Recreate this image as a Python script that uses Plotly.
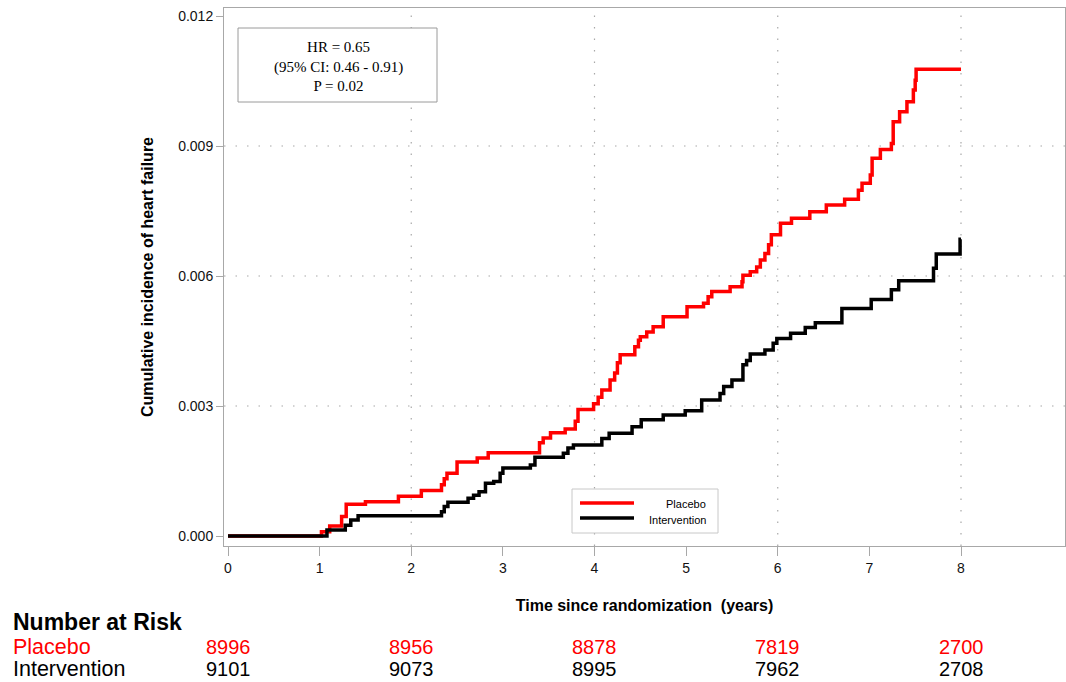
import plotly.graph_objects as go

# ---------------- data ----------------
placebo_t = [0, 1.02, 1.11, 1.24, 1.29, 1.50, 1.86, 2.11, 2.33, 2.36, 2.39, 2.50, 2.72, 2.84,
             3.40, 3.44, 3.52, 3.68, 3.79, 3.82, 3.99, 4.04, 4.08, 4.17, 4.22, 4.25, 4.28,
             4.44, 4.48, 4.50, 4.57, 4.64, 4.75, 5.01, 5.19, 5.24, 5.28, 5.48, 5.61, 5.62,
             5.70, 5.77, 5.81, 5.86, 5.90, 5.93, 6.03, 6.15, 6.35, 6.53, 6.73, 6.88, 6.92,
             7.01, 7.03, 7.12, 7.24, 7.26, 7.33, 7.41, 7.48, 7.50, 7.51, 8.00]
placebo_v = [0, 0.00010, 0.00023, 0.00045, 0.00073, 0.00079, 0.00092, 0.00105, 0.00118, 0.00132,
             0.00145, 0.00171, 0.00180, 0.00192, 0.00215, 0.00226, 0.00238, 0.00247, 0.00265,
             0.00292, 0.00305, 0.00320, 0.00337, 0.00360, 0.00376, 0.00400, 0.00418, 0.00437,
             0.00452, 0.00460, 0.00471, 0.00483, 0.00506, 0.00529, 0.00537, 0.00552, 0.00564,
             0.00575, 0.00587, 0.00602, 0.00610, 0.00621, 0.00637, 0.00652, 0.00672, 0.00695,
             0.00722, 0.00733, 0.00748, 0.00764, 0.00777, 0.00798, 0.00814, 0.00833, 0.00872,
             0.00892, 0.00906, 0.00956, 0.00979, 0.01002, 0.01029, 0.01052, 0.01077, 0.01077]

interv_t = [0, 1.08, 1.28, 1.34, 1.42, 2.33, 2.36, 2.40, 2.62, 2.68, 2.74, 2.81, 2.90, 2.97, 3.00,
            3.30, 3.35, 3.66, 3.71, 3.77, 4.08, 4.16, 4.41, 4.51, 4.75, 4.99, 5.17, 5.37, 5.41,
            5.50, 5.62, 5.66, 5.70, 5.86, 5.95, 5.99, 6.14, 6.30, 6.41, 6.70, 7.02, 7.24, 7.32,
            7.70, 7.73, 7.99, 8.00]
interv_v = [0, 0.00014, 0.00025, 0.00037, 0.00047, 0.00056, 0.00068, 0.00078, 0.00087, 0.00094,
            0.00102, 0.00122, 0.00126, 0.00145, 0.00157, 0.00164, 0.00182, 0.00191, 0.00203,
            0.00210, 0.00225, 0.00237, 0.00252, 0.00268, 0.00279, 0.00289, 0.00314, 0.00329,
            0.00345, 0.00360, 0.00395, 0.00405, 0.00420, 0.00429, 0.00445, 0.00456, 0.00468,
            0.00481, 0.00492, 0.00525, 0.00546, 0.00568, 0.00589, 0.00618, 0.00651, 0.00685,
            0.00685]

x_ticks = [0, 1, 2, 3, 4, 5, 6, 7, 8]
y_ticks = [0.0, 0.003, 0.006, 0.009, 0.012]
y_tick_text = ["0.000", "0.003", "0.006", "0.009", "0.012"]
grid_x = [2, 4, 6, 8]
grid_y = [0.003, 0.006, 0.009]

risk_times = [0, 2, 4, 6, 8]
risk_placebo = [8996, 8956, 8878, 7819, 2700]
risk_interv = [9101, 9073, 8995, 7962, 2708]

hr_text = "HR = 0.65<br>(95% CI: 0.46 - 0.91)<br>P = 0.02"

# ---------------- figure ----------------
W, H = 1066, 682
L, R, T, B = 224, 1, 8, 136
pw, ph = W - L - R, H - T - B


def px(x):  # pixel x -> paper
    return (x - L) / pw


def py(y):  # pixel y -> paper
    return (H - B - y) / ph


SANS = "Liberation Sans, Arial, sans-serif"
SERIF = "Liberation Serif, Times New Roman, serif"
RED = "#ff0000"
GRAY = "#a8a8a8"

fig = go.Figure()
fig.add_trace(go.Scatter(x=placebo_t, y=placebo_v, mode="lines", line=dict(color=RED, width=3.5, shape="hv"),
                         name="Placebo", showlegend=False))
fig.add_trace(go.Scatter(x=interv_t, y=interv_v, mode="lines", line=dict(color="#000000", width=3.5, shape="hv"),
                         name="Intervention", showlegend=False))

shapes = []
for g in grid_x:
    shapes.append(dict(type="line", xref="x", yref="paper", x0=g, x1=g, y0=0, y1=1, layer="below",
                       line=dict(color=GRAY, width=1.2, dash="1.5px,10px")))
for g in grid_y:
    shapes.append(dict(type="line", xref="paper", yref="y", x0=0, x1=1, y0=g, y1=g, layer="below",
                       line=dict(color=GRAY, width=1.2, dash="1.5px,10px")))
# HR box
shapes.append(dict(type="rect", xref="paper", yref="paper", x0=px(238), x1=px(437), y0=py(102), y1=py(28),
                   line=dict(color="#9a9a9a", width=1), fillcolor="white", layer="above"))
# legend box and swatches
shapes.append(dict(type="rect", xref="paper", yref="paper", x0=px(572), x1=px(718), y0=py(533), y1=py(489),
                   line=dict(color="#c8c8c8", width=1), fillcolor="white", layer="above"))
shapes.append(dict(type="line", xref="paper", yref="paper", x0=px(580), x1=px(634), y0=py(503), y1=py(503),
                   line=dict(color=RED, width=3.5), layer="above"))
shapes.append(dict(type="line", xref="paper", yref="paper", x0=px(580), x1=px(634), y0=py(518), y1=py(518),
                   line=dict(color="#000000", width=3.5), layer="above"))

ann = []
ann.append(dict(xref="paper", yref="paper", x=px(338), y=py(66), text=hr_text, showarrow=False,
                xanchor="center", yanchor="middle", align="center",
                font=dict(family=SERIF, size=15, color="#000")))
ann.append(dict(xref="paper", yref="paper", x=px(708), y=py(504), text="Placebo", showarrow=False,
                xanchor="right", yanchor="middle", font=dict(family=SANS, size=11, color="#000")))
ann.append(dict(xref="paper", yref="paper", x=px(708), y=py(520), text="Intervention", showarrow=False,
                xanchor="right", yanchor="middle", font=dict(family=SANS, size=11, color="#000")))

# Number at risk table
ann.append(dict(xref="paper", yref="paper", x=px(11), y=py(622), text="<b>Number at Risk</b>", showarrow=False,
                xanchor="left", yanchor="middle", font=dict(family=SANS, size=23, color="#000")))
ann.append(dict(xref="paper", yref="paper", x=px(11), y=py(647), text="Placebo", showarrow=False,
                xanchor="left", yanchor="middle", font=dict(family=SANS, size=21.5, color=RED)))
ann.append(dict(xref="paper", yref="paper", x=px(11), y=py(669), text="Intervention", showarrow=False,
                xanchor="left", yanchor="middle", font=dict(family=SANS, size=21.5, color="#000")))
for t, a, b in zip(risk_times, risk_placebo, risk_interv):
    ann.append(dict(xref="x", yref="paper", x=t, y=py(647), text=str(a), showarrow=False,
                    xanchor="center", yanchor="middle", font=dict(family=SANS, size=20, color=RED)))
    ann.append(dict(xref="x", yref="paper", x=t, y=py(669), text=str(b), showarrow=False,
                    xanchor="center", yanchor="middle", font=dict(family=SANS, size=20, color="#000")))

ppy = 91.625  # px per year
x_range = [(L - 228) / ppy, (W - R - 228) / ppy]
ppv = 520 / 0.012
y_range = [-(H - B - 536) / ppv, 0.012 + (16 - T) / ppv]

fig.update_layout(
    width=W, height=H, autosize=False,
    margin=dict(l=L, r=R, t=T, b=B, pad=0),
    paper_bgcolor="white", plot_bgcolor="white",
    shapes=shapes, annotations=ann, showlegend=False,
    xaxis=dict(range=x_range, tickvals=x_ticks, ticktext=[str(v) for v in x_ticks],
               showgrid=False, zeroline=False, showline=True, mirror=True, linecolor=GRAY, linewidth=1,
               ticks="outside", ticklen=9, tickcolor=GRAY, tickwidth=1,
               tickfont=dict(family=SANS, size=14, color="#111"),
               title=dict(text="<b>Time since randomization  (years)</b>", standoff=25,
                          font=dict(family=SANS, size=16, color="#000"))),
    yaxis=dict(range=y_range, tickvals=y_ticks, ticktext=y_tick_text,
               showgrid=False, zeroline=False, showline=True, mirror=True, linecolor=GRAY, linewidth=1,
               ticks="outside", ticklen=7, tickcolor=GRAY, tickwidth=1,
               tickfont=dict(family=SANS, size=14, color="#111"),
               title=dict(text="<b>Cumulative incidence of heart failure</b>", standoff=20,
                          font=dict(family=SANS, size=16, color="#000"))),
)

fig.write_html("out.html")
